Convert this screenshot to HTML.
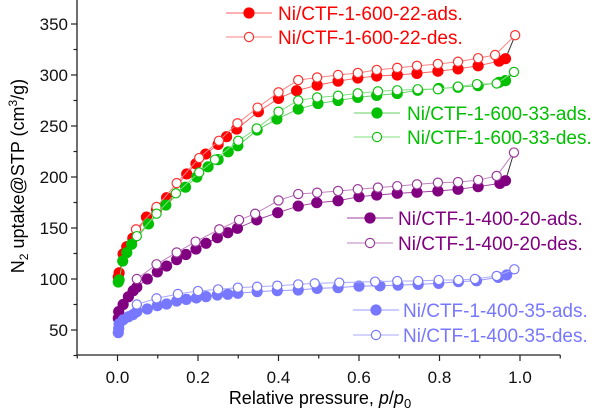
<!DOCTYPE html>
<html><head><meta charset="utf-8"><style>
html,body{margin:0;padding:0;background:#fff;}
svg{display:block;font-family:"Liberation Sans",Arial,sans-serif;}
</style></head><body>
<svg id="chart" width="607" height="411" viewBox="0 0 607 411" xmlns="http://www.w3.org/2000/svg">
<g id="axes"></g>
<g id="series"></g>
<g id="legend"></g>
<text x="320" y="404" font-size="18" text-anchor="middle">Relative pressure, <tspan font-style="italic">p</tspan>/<tspan font-style="italic">p</tspan><tspan font-size="13" dy="4">0</tspan></text>
<text transform="translate(24,176) rotate(-90)" font-size="18" text-anchor="middle">N<tspan font-size="12" dy="4">2</tspan><tspan dy="-4"> uptake@STP (cm</tspan><tspan font-size="12" dy="-7">3</tspan><tspan dy="7">/g)</tspan></text>
</svg>
<script>
const xTicks=[0.0,0.2,0.4,0.6,0.8,1.0];
const yTicks=[50,100,150,200,250,300,350];
const seriesNames=["Ni/CTF-1-600-22-ads.","Ni/CTF-1-600-22-des.","Ni/CTF-1-600-33-ads.","Ni/CTF-1-600-33-des.","Ni/CTF-1-400-20-ads.","Ni/CTF-1-400-20-des.","Ni/CTF-1-400-35-ads.","Ni/CTF-1-400-35-des."];
const r22adsX=[0.002,0.004,0.014,0.023,0.038,0.072,0.097,0.122,0.172,0.195,0.219,0.25,0.271,0.296,0.35,0.40,0.445,0.496,0.548,0.597,0.644,0.695,0.744,0.796,0.846,0.896,0.948,0.964];
const r22adsY=[102,106,124.5,131.7,140,160.7,168,179.7,203,213,222.5,232,239.5,247,264,277,284.6,290,294,297,299,300,301.6,303.7,306,309,313.6,316];
const r22desX=[0.988,0.938,0.896,0.846,0.796,0.744,0.695,0.644,0.597,0.548,0.496,0.449,0.40,0.348,0.298,0.252,0.203,0.147,0.097,0.046];
const r22desY=[339,319.6,316.5,313,310.8,309,307,305,302,300,297.6,295,283,268,252.6,235.5,218.6,194,170.6,148.7];
const g33adsX=[0.002,0.004,0.013,0.023,0.035,0.077,0.12,0.169,0.197,0.225,0.25,0.275,0.299,0.347,0.396,0.449,0.498,0.548,0.597,0.644,0.695,0.746,0.798,0.846,0.896,0.948,0.964];
const g33adsY=[97,99,117.6,125.8,134,154,172.5,190,200,210,217,224.7,230.6,246,256.8,266.6,272,275,278,280,281.8,285,286.8,288,289.5,292.8,294.5];
const g33desX=[0.985,0.942,0.893,0.846,0.796,0.746,0.695,0.647,0.597,0.548,0.496,0.449,0.40,0.346,0.30,0.242,0.203,0.145,0.097,0.048];
const g33desY=[303,291.7,291,288.6,286,286,285,284,282,279.7,278,275,264,247.6,235.5,217,204.5,184,164,142];
const p20adsX=[0.002,0.003,0.014,0.027,0.039,0.048,0.074,0.099,0.122,0.147,0.17,0.195,0.22,0.248,0.274,0.298,0.346,0.398,0.449,0.495,0.548,0.60,0.644,0.695,0.744,0.796,0.846,0.896,0.95,0.964];
const p20adsY=[61.5,68,75,82.6,88.5,92,100,107,112.7,119,124,129.4,135,140.5,145.4,149.7,158,165,171.5,174.8,176.7,180.7,182.3,184,185,186.3,188,190.5,193.7,196.4];
const p20desX=[0.985,0.942,0.896,0.846,0.796,0.744,0.695,0.647,0.597,0.548,0.496,0.449,0.40,0.342,0.302,0.253,0.194,0.147,0.097,0.048];
const p20desY=[224,201,197,195,194.4,192.8,191,189.6,188,186.3,184.6,183.3,177,164,157.8,148.7,136.6,126,114.4,100];
const b35adsX=[0.002,0.003,0.004,0.014,0.027,0.038,0.048,0.074,0.099,0.122,0.147,0.171,0.196,0.22,0.248,0.274,0.299,0.347,0.397,0.449,0.496,0.548,0.60,0.652,0.697,0.747,0.798,0.847,0.892,0.946,0.967];
const b35adsY=[47.4,51.5,56,60,63,65,68,70.6,73.9,75.5,78.4,80,81.4,82.7,84.3,85,86,87.6,88.6,89.2,90.8,91.5,93,93.3,94,94.7,95.7,97.4,98.3,101.6,104];
const b35desX=[0.986,0.942,0.888,0.847,0.798,0.747,0.695,0.64,0.551,0.49,0.449,0.397,0.347,0.299,0.25,0.2,0.15,0.097,0.048];
const b35desY=[109.5,103,100,99,99,98,98,97.4,96.4,95.7,94.7,93.4,92.4,91.5,89.8,88.2,85.3,81,75];

const NS="http://www.w3.org/2000/svg";
const X0=117.5, XS=402.5, Y50=330, YS=51/50;
function sx(v){return X0+v*XS;}
function sy(v){return Y50-(v-50)*YS;}
function mk(tag,attrs,parent){const e=document.createElementNS(NS,tag);for(const k in attrs)e.setAttribute(k,attrs[k]);parent.appendChild(e);return e;}
const axes=document.getElementById('axes');
const ser=document.getElementById('series');
const leg=document.getElementById('legend');
const bottom=355, left=77;
let a=mk('line',{x1:left,y1:bottom,x2:sx(1.1),y2:bottom,stroke:'#222','stroke-width':1.3},axes);


a=mk('line',{x1:left,y1:0,x2:left,y2:bottom,stroke:'#222','stroke-width':1.3},axes);


for(let i=-1;i<=11;i++){const v=i/10,x=sx(v),maj=(i%2===0);
 const t=mk('line',{x1:x,y1:bottom,x2:x,y2:bottom+(maj?6:3.5),stroke:'#222','stroke-width':1.2},axes);
 
 }
xTicks.forEach(v=>{const t=mk('text',{x:sx(v),y:383,'font-size':17,'text-anchor':'middle',fill:'#111'},axes);t.textContent=v.toFixed(1);
 
 });
for(let v=25;v<=375;v+=25){const y=sy(v),maj=(v%50===0);if(y<0)continue;
 const t=mk('line',{x1:left,y1:y,x2:left-(maj?6:3.5),y2:y,stroke:'#222','stroke-width':1.2},axes);
 
 }
yTicks.forEach(v=>{const t=mk('text',{x:68,y:sy(v)+6,'font-size':17,'text-anchor':'end',fill:'#111'},axes);t.textContent=v;
 
 });

const series=[
 {xs:r22adsX,ys:r22adsY,c:'#ff0000',lc:'#ff6060',fill:true},
 {xs:r22desX,ys:r22desY,c:'#ff3030',lc:'#ff8080',fill:false},
 {xs:g33adsX,ys:g33adsY,c:'#00c000',lc:'#60d060',fill:true},
 {xs:g33desX,ys:g33desY,c:'#10c010',lc:'#80e080',fill:false},
 {xs:p20adsX,ys:p20adsY,c:'#800080',lc:'#a040a0',fill:true},
 {xs:p20desX,ys:p20desY,c:'#9a3a9a',lc:'#c080c0',fill:false},
 {xs:b35adsX,ys:b35adsY,c:'#7777ff',lc:'#9999ff',fill:true},
 {xs:b35desX,ys:b35desY,c:'#7777ff',lc:'#aaaaff',fill:false}];
// black connectors between ads and des ends
for(let i=0;i<8;i+=2){const A=series[i],D=series[i+1];
 const c1=mk('line',{x1:sx(A.xs[A.xs.length-1]),y1:sy(A.ys[A.ys.length-1]),x2:sx(D.xs[0]),y2:sy(D.ys[0]),stroke:'#333','stroke-width':1},ser);
 
 
 const c2=mk('line',{x1:sx(D.xs[D.xs.length-1]),y1:sy(D.ys[D.ys.length-1]),x2:sx(A.xs[6]),y2:sy(A.ys[6]),stroke:'#333','stroke-width':0.8},ser);
 
 }
series.forEach((s,i)=>{
 const g=mk('g',{},ser);
 
 
 const pts=s.xs.map((x,j)=>sx(x)+','+sy(s.ys[j])).join(' ');
 const pl=mk('polyline',{points:pts,fill:'none',stroke:s.lc,'stroke-width':1},g);
 
 
 s.xs.forEach((x,j)=>{const c=mk('circle',{cx:sx(x),cy:sy(s.ys[j]),r:s.fill?5:4.6,fill:s.fill?s.c:'#fff',stroke:s.c,'stroke-width':1.2},g);
  
  });
});
const legPos=[[249,13,278],[249,37,278],[377,113,407],[377,137,407],[370,218,398],[370,243,398],[376,310,403],[376,335,403]];
const legText=['#ff0000','#ff0000','#00c000','#00c000','#800080','#800080','#7777ff','#7777ff'];
series.forEach((s,i)=>{const [mx,my,tx]=legPos[i];
 const g=mk('g',{},leg);
 
 
 mk('line',{x1:mx-23,y1:my,x2:mx+23,y2:my,stroke:s.lc,'stroke-width':1},g);
 mk('circle',{cx:mx,cy:my,r:s.fill?5:4.6,fill:s.fill?s.c:'#fff',stroke:s.c,'stroke-width':1.2},g);
 const t=mk('text',{x:tx,y:my+7,'font-size':19,fill:legText[i]},g);t.textContent=seriesNames[i];
});
</script>
</body></html>
